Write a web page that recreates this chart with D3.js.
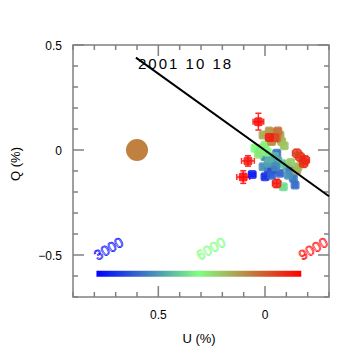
<!DOCTYPE html>
<html>
<head>
<meta charset="utf-8">
<script src="https://cdn.jsdelivr.net/npm/d3@7"></script>
<style>
  body { margin: 0; background: #fff; }
  text { font-family: "Liberation Sans", Arial, sans-serif; }
</style>
</head>
<body>
<div id="dataviz"></div>
<script>
// polarization points: U, Q (%), errors, wavelength (A)
const pointU  = [0.060, 0.000, -0.016, -0.038, -0.070, -0.055, -0.030,
                 0.000, -0.031, 0.009, -0.016, -0.102, -0.117, -0.133, -0.141, -0.045,
                 -0.020, -0.060, -0.080, -0.050, -0.110,
                 0.047, 0.000, 0.023, -0.086, 0.030, 0.015, -0.010,
                 0.009, -0.038, -0.070, -0.078, -0.055, -0.031, -0.149, -0.155,
                 -0.020, -0.060, -0.090, -0.120,
                 -0.047, -0.164, -0.188, -0.180, -0.149, -0.020,
                 0.031, 0.080, 0.102, -0.055];
const pointQ  = [-0.117, -0.127, -0.095, -0.095, -0.111, -0.016, -0.120,
                 -0.032, -0.048, -0.080, -0.063, -0.080, -0.095, -0.135, -0.167, -0.030,
                 -0.040, -0.050, -0.065, -0.080, -0.120,
                 0.008, 0.024, -0.008, -0.175, -0.020, 0.010, -0.010,
                 0.071, 0.081, 0.071, 0.040, 0.056, 0.040, -0.095, -0.080,
                 0.090, 0.090, 0.020, -0.060,
                 0.060, -0.032, -0.048, -0.063, -0.016, 0.060,
                 0.135, -0.052, -0.129, -0.159];
const errU    = [0.015, 0.012, 0.010, 0.010, 0.010, 0.010, 0.010,
                 0.010, 0.010, 0.010, 0.010, 0.010, 0.010, 0.010, 0.010, 0.010,
                 0.010, 0.010, 0.010, 0.010, 0.010,
                 0.010, 0.010, 0.010, 0.010, 0.010, 0.010, 0.010,
                 0.012, 0.012, 0.012, 0.012, 0.012, 0.012, 0.012, 0.012,
                 0.012, 0.012, 0.012, 0.012,
                 0.015, 0.020, 0.020, 0.020, 0.020, 0.015,
                 0.025, 0.030, 0.030, 0.020];
const errQ    = [0.008, 0.010, 0.010, 0.010, 0.010, 0.010, 0.010,
                 0.010, 0.010, 0.010, 0.010, 0.010, 0.010, 0.010, 0.010, 0.010,
                 0.010, 0.010, 0.010, 0.010, 0.010,
                 0.010, 0.010, 0.010, 0.010, 0.010, 0.010, 0.010,
                 0.012, 0.012, 0.012, 0.012, 0.012, 0.012, 0.012, 0.012,
                 0.012, 0.012, 0.012, 0.012,
                 0.015, 0.020, 0.020, 0.020, 0.020, 0.015,
                 0.040, 0.025, 0.030, 0.020];
const waves   = [3300, 3500, 3800, 4000, 4200, 4300, 4100,
                 4600, 4800, 4700, 4900, 5000, 4500, 4400, 4300, 5200,
                 5100, 4900, 5300, 4600, 4700,
                 6000, 6100, 5800, 5600, 6300, 6200, 5900,
                 7000, 7300, 7100, 6900, 7600, 7400, 7000, 6800,
                 7200, 7700, 6700, 6600,
                 8200, 8400, 8600, 8500, 8300, 8700,
                 8900, 8800, 9000, 8700];

// big reference point
const refU = [0.60], refQ = [0.0], refWave = [7500];

// fitted line
const lineU = [0.605, -0.30];
const lineQ = [0.44, -0.22];

const xTicks = [0.5, 0];
const yTicks = [0.5, 0, -0.5];
const barStops = [3000, 6000, 9000];
const barColors = ["#0000ff", "#80ff80", "#ff0000"];
const barRange = [0.79, -0.17]; // in U units along the bar

var margin = {top: 45, right: 25, bottom: 57, left: 73};
var width = 354 - margin.left - margin.right;
var height = 354 - margin.top - margin.bottom;

var svg = d3.select("#dataviz")
  .append("svg")
    .attr("width", 354)
    .attr("height", 354)
  .append("g")
    .attr("transform", "translate(" + margin.left + "," + margin.top + ")");

var x = d3.scaleLinear().domain([0.9, -0.3]).range([0, width]);
var y = d3.scaleLinear().domain([-0.7, 0.5]).range([height, 0]);
var color = d3.scaleLinear().domain(barStops).range(barColors);

var axisColor = "#808080";

// frame
svg.append("rect")
  .attr("width", width).attr("height", height)
  .attr("fill", "none").attr("stroke", axisColor).attr("stroke-width", 1.5);

// ticks all sides, inward
var minor = d3.range(-7, 6).map(d => d / 10);
var minorX = d3.range(-3, 10).map(d => d / 10);
function isMajor(v) { return Math.abs(v * 2 - Math.round(v * 2)) < 1e-6; }

var tickG = svg.append("g").attr("stroke", axisColor).attr("stroke-width", 1.5);
minorX.forEach(v => {
  var len = isMajor(v) ? 11 : 5;
  tickG.append("line").attr("x1", x(v)).attr("x2", x(v)).attr("y1", height).attr("y2", height - len);
  tickG.append("line").attr("x1", x(v)).attr("x2", x(v)).attr("y1", 0).attr("y2", len);
});
minor.forEach(v => {
  var len = isMajor(v) ? 11 : 5;
  tickG.append("line").attr("y1", y(v)).attr("y2", y(v)).attr("x1", 0).attr("x2", len);
  tickG.append("line").attr("y1", y(v)).attr("y2", y(v)).attr("x1", width).attr("x2", width - len);
});

// tick labels
svg.append("g").selectAll("text").data(xTicks).enter().append("text")
  .attr("x", d => x(d)).attr("y", height + 22)
  .attr("text-anchor", "middle").attr("font-size", 12)
  .text(d => d === 0 ? "0" : d);
svg.append("g").selectAll("text").data(yTicks).enter().append("text")
  .attr("x", -11).attr("y", d => y(d) + 5)
  .attr("text-anchor", "end").attr("font-size", 12)
  .text(d => d === 0 ? "0" : (d < 0 ? "\u2212" + Math.abs(d) : d));

// axis titles
svg.append("text")
  .attr("x", width / 2 - 2).attr("y", height + 46)
  .attr("text-anchor", "middle").attr("font-size", 13)
  .text("U (%)");
svg.append("text")
  .attr("transform", "rotate(-90)")
  .attr("x", -(y(0) + 14)).attr("y", -53)
  .attr("text-anchor", "middle").attr("font-size", 13)
  .text("Q (%)");

// title
svg.append("text")
  .attr("x", 65).attr("y", 24)
  .attr("font-size", 15).attr("letter-spacing", 2)
  .text("2001 10 18");

// colour bar
var grad = svg.append("defs").append("linearGradient").attr("id", "wl");
barColors.forEach((c, i) => {
  grad.append("stop").attr("offset", (i / (barColors.length - 1) * 100) + "%").attr("stop-color", c);
});
svg.append("rect")
  .attr("x", x(barRange[0])).attr("y", y(-0.575))
  .attr("width", x(barRange[1]) - x(barRange[0])).attr("height", 6)
  .attr("fill", "url(#wl)");

var barPos = d3.scaleLinear().domain([3000, 9000]).range([x(barRange[0]), x(barRange[1])]);
svg.append("g").selectAll("text").data(barStops).enter().append("text")
  .attr("transform", d => "translate(" + (barPos(d) + 1) + "," + (y(-0.575) - 10) + ") rotate(-30)")
  .attr("font-size", 14)
  .attr("fill", "#fff")
  .attr("stroke", d => color(d))
  .attr("stroke-width", 0.7)
  .text(d => d);

// error bars
var eb = svg.append("g");
waves.forEach((w, i) => {
  var c = color(w);
  var g = eb.append("g").attr("stroke", c).attr("stroke-width", 1.5).attr("opacity", 0.85);
  var cx = x(pointU[i]), cy = y(pointQ[i]);
  var x0 = x(pointU[i] + errU[i]), x1 = x(pointU[i] - errU[i]);
  var y0 = y(pointQ[i] + errQ[i]), y1 = y(pointQ[i] - errQ[i]);
  g.append("line").attr("x1", x0).attr("x2", x1).attr("y1", cy).attr("y2", cy);
  g.append("line").attr("x1", cx).attr("x2", cx).attr("y1", y0).attr("y2", y1);
  g.append("line").attr("x1", x0).attr("x2", x0).attr("y1", cy - 3).attr("y2", cy + 3);
  g.append("line").attr("x1", x1).attr("x2", x1).attr("y1", cy - 3).attr("y2", cy + 3);
  g.append("line").attr("x1", cx - 3).attr("x2", cx + 3).attr("y1", y0).attr("y2", y0);
  g.append("line").attr("x1", cx - 3).attr("x2", cx + 3).attr("y1", y1).attr("y2", y1);
});

// points
svg.append("g").selectAll("rect").data(waves).enter().append("rect")
  .attr("x", (d, i) => x(pointU[i]) - 4.5)
  .attr("y", (d, i) => y(pointQ[i]) - 4.5)
  .attr("width", 9).attr("height", 9).attr("rx", 2.5)
  .attr("fill", d => color(d))
  .attr("opacity", 0.85);

// reference point
svg.append("g").selectAll("circle").data(refWave).enter().append("circle")
  .attr("cx", (d, i) => x(refU[i]))
  .attr("cy", (d, i) => y(refQ[i]))
  .attr("r", 11)
  .attr("fill", d => color(d));

// line
svg.append("path")
  .datum(lineU.map((u, i) => [u, lineQ[i]]))
  .attr("d", d3.line().x(d => x(d[0])).y(d => y(d[1])))
  .attr("stroke", "#000").attr("stroke-width", 2).attr("fill", "none");
</script>
</body>
</html>
